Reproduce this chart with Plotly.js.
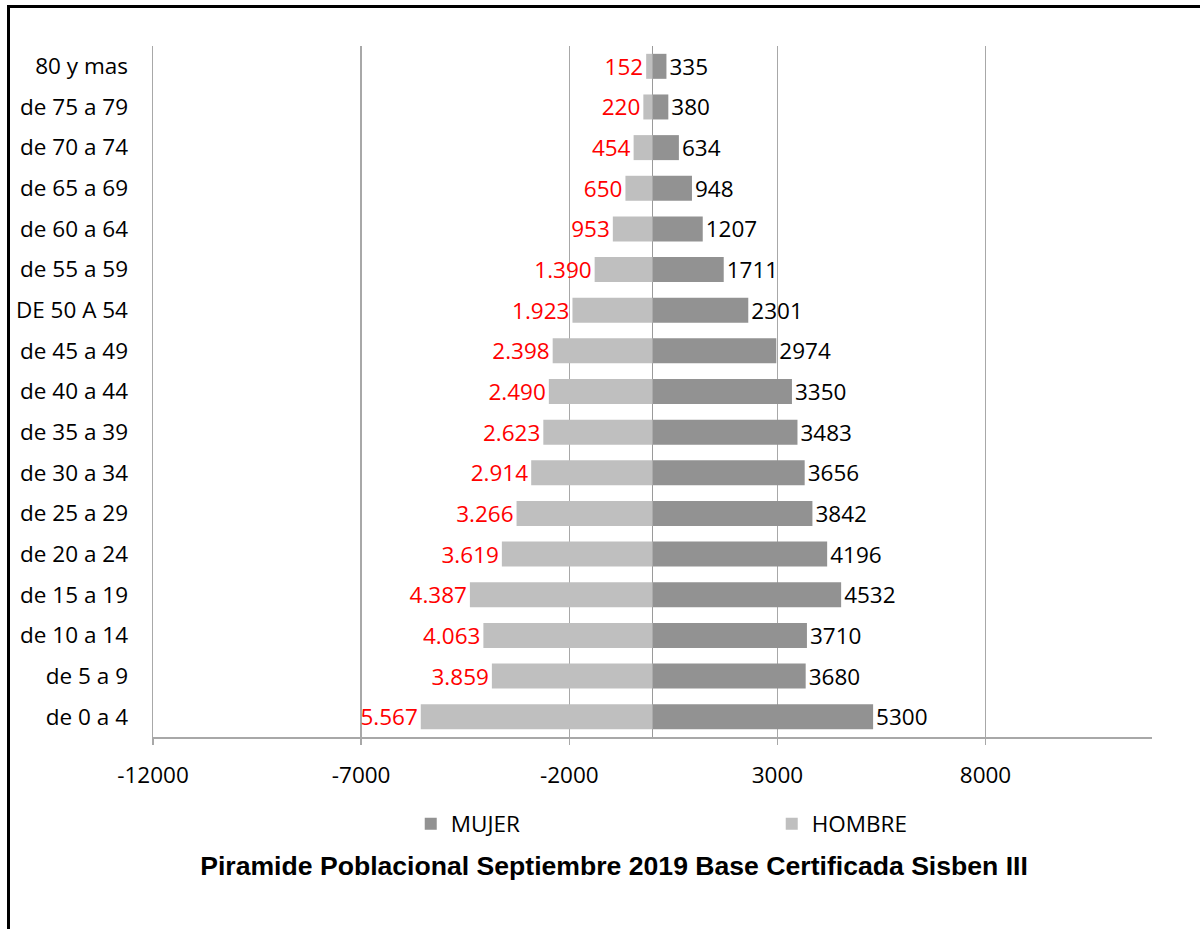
<!DOCTYPE html>
<html>
<head>
<meta charset="utf-8">
<script src="https://cdn.plot.ly/plotly-3.0.1.min.js"></script>
<style>
  html, body { margin: 0; padding: 0; background: #fff; }
  #wrap { position: relative; width: 1200px; height: 929px; overflow: hidden; }
  #chart { width: 1200px; height: 929px; }
  #frame { position: absolute; left: 7px; top: 5px; width: 1300px; height: 1000px;
           border-left: 3px solid #000; border-top: 3px solid #000; pointer-events: none; }
</style>
</head>
<body>
<div id="wrap">
  <div id="chart"></div>
  <div id="frame"></div>
</div>
<script>
const categories = ['de 0 a 4','de 5 a 9','de 10 a 14','de 15 a 19','de 20 a 24','de 25 a 29',
  'de 30 a 34','de 35 a 39','de 40 a 44','de 45 a 49','DE 50 A 54','de 55 a 59','de 60 a 64',
  'de 65 a 69','de 70 a 74','de 75 a 79','80 y mas'];
const mujer = [5300,3680,3710,4532,4196,3842,3656,3483,3350,2974,2301,1711,1207,948,634,380,335];
const hombre = [5567,3859,4063,4387,3619,3266,2914,2623,2490,2398,1923,1390,953,650,454,220,152];
const xTickVals = [-12000,-7000,-2000,3000,8000];
const xTickText = ['-12000','-7000','-2000','3000','8000'];

function dotThousands(v) {
  return String(v).replace(/\B(?=(\d{3})+(?!\d))/g, '.');
}

const labelFont = 'Open Sans, sans-serif';
const fs = 22.5;

const traceMujer = {
  type: 'bar', orientation: 'h', name: 'MUJER',
  y: categories, x: mujer,
  marker: { color: '#929292' },
  text: mujer.map(v => String(v)),
  textposition: 'outside', constraintext: 'none', cliponaxis: false,
  textfont: { family: labelFont, size: fs, color: '#000' },
  hoverinfo: 'x+y'
};
const traceHombre = {
  type: 'bar', orientation: 'h', name: 'HOMBRE',
  y: categories, x: hombre.map(v => -v),
  marker: { color: '#bfbfbf' },
  text: hombre.map(dotThousands),
  textposition: 'outside', constraintext: 'none', cliponaxis: false,
  textfont: { family: labelFont, size: fs, color: '#ff0000' },
  hoverinfo: 'x+y'
};

const layout = {
  width: 1200, height: 929,
  margin: { l: 153, r: 48, t: 46, b: 192 },
  paper_bgcolor: '#fff', plot_bgcolor: '#fff',
  barmode: 'relative', bargap: 0.385,
  font: { family: labelFont, size: fs, color: '#000' },
  showlegend: true,
  legend: {
    orientation: 'h', x: 0.258, xanchor: 'left', y: -0.126, yanchor: 'middle',
    traceorder: 'normal', entrywidth: 316, entrywidthmode: 'pixels',
    font: { family: labelFont, size: fs, color: '#000' }
  },
  title: {
    text: '<b>Piramide Poblacional Septiembre 2019 Base Certificada Sisben III</b>',
    xref: 'container', yref: 'container', x: 0.5117, y: 0.0678,
    xanchor: 'center', yanchor: 'middle',
    font: { family: 'Liberation Sans, Arial, sans-serif', size: 26.6, color: '#000' }
  },
  xaxis: {
    range: [-12000, 12000], tickvals: xTickVals, ticktext: xTickText,
    showgrid: true, gridcolor: '#a8a8a8', gridwidth: 1.5,
    zeroline: true, zerolinecolor: '#9a9a9a', zerolinewidth: 1.5,
    showline: true, linecolor: '#a8a8a8', linewidth: 2,
    ticks: 'outside', ticklen: 6, tickcolor: '#a8a8a8', tickwidth: 1.5,
    ticklabelstandoff: 11,
    tickfont: { family: labelFont, size: fs, color: '#000' },
    fixedrange: true
  },
  yaxis: {
    type: 'category', categoryorder: 'array', categoryarray: categories,
    showgrid: false, zeroline: false,
    showline: true, linecolor: '#a8a8a8', linewidth: 1.5, ticks: '',
    ticklabelstandoff: 19,
    tickfont: { family: labelFont, size: fs, color: '#000' },
    fixedrange: true
  }
};

Plotly.newPlot('chart', [traceMujer, traceHombre], layout, { displayModeBar: false, staticPlot: true });
</script>
</body>
</html>
